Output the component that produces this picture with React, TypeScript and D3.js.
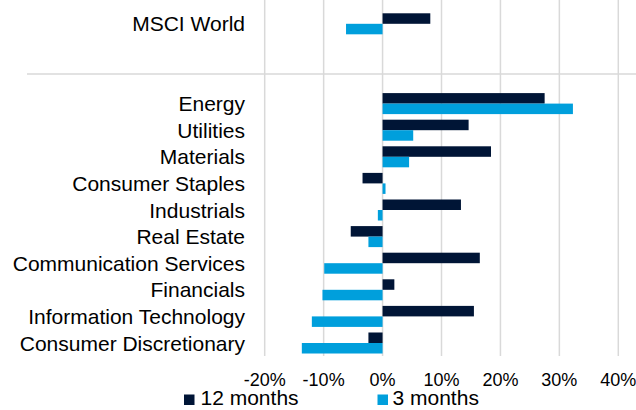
import React from "react";
import * as d3 from "d3";

const categories = [
  "MSCI World",
  "Energy",
  "Utilities",
  "Materials",
  "Consumer Staples",
  "Industrials",
  "Real Estate",
  "Communication Services",
  "Financials",
  "Information Technology",
  "Consumer Discretionary",
];
const twelveMonths = [8.1, 27.5, 14.6, 18.4, -3.4, 13.3, -5.4, 16.5, 2.0, 15.5, -2.4];
const threeMonths = [-6.2, 32.3, 5.2, 4.5, 0.5, -0.8, -2.4, -9.9, -10.2, -12.0, -13.7];
const tickValues = [-20, -10, 0, 10, 20, 30, 40];
const seriesNames = ["12 months", "3 months"];

const W = 636;
const H = 410;
const DARK = "#001536";
const BLUE = "#009fdc";
const GRID = "#d9d9d9";
const FONT = "'Liberation Sans', Arial, sans-serif";

export default function App() {
  const slots = [categories[0], "_gap1", "_gap2", ...categories.slice(1)];
  const x = d3.scaleLinear().domain([-20, 40]).range([264.7, 618.3]);
  const y = d3
    .scaleBand<string>()
    .domain(slots)
    .range([10.5, 356.3])
    .paddingInner(0.21)
    .paddingOuter(0.105);
  const bh = y.bandwidth() / 2;
  const sepY = (y("_gap2") as number) + 7.5;

  return (
    <svg
      width={W}
      height={H}
      style={{ position: "absolute", left: 0, top: 0, background: "#fff" }}
      fontFamily={FONT}
    >
      {tickValues.map((t) => (
        <line
          key={"g" + t}
          x1={x(t)}
          x2={x(t)}
          y1={0}
          y2={356}
          stroke={GRID}
          strokeWidth={1.5}
        />
      ))}
      <line x1={27} x2={W} y1={sepY} y2={sepY} stroke={GRID} strokeWidth={1.5} />
      {categories.map((c, i) => {
        const y0 = y(c) as number;
        const a = twelveMonths[i];
        const b = threeMonths[i];
        return (
          <g key={c}>
            <rect
              x={Math.min(x(0), x(a))}
              y={y0}
              width={Math.abs(x(a) - x(0))}
              height={bh}
              fill={DARK}
            />
            <rect
              x={Math.min(x(0), x(b))}
              y={y0 + bh}
              width={Math.abs(x(b) - x(0))}
              height={bh}
              fill={BLUE}
            />
            <text
              x={245}
              y={y0 + bh + 7.5}
              textAnchor="end"
              fontSize={21}
              fill="#000"
            >
              {c}
            </text>
          </g>
        );
      })}
      {tickValues.map((t) => (
        <text
          key={"t" + t}
          x={x(t)}
          y={385.5}
          textAnchor="middle"
          fontSize={18}
          fill="#000"
        >
          {t + "%"}
        </text>
      ))}
      <rect x={184} y={394.5} width={10.5} height={10.5} fill={DARK} />
      <text x={200.5} y={405} fontSize={21} fill="#000">
        {seriesNames[0]}
      </text>
      <rect x={377.5} y={394.5} width={10.5} height={10.5} fill={BLUE} />
      <text x={392.5} y={405} fontSize={21} fill="#000">
        {seriesNames[1]}
      </text>
    </svg>
  );
}
